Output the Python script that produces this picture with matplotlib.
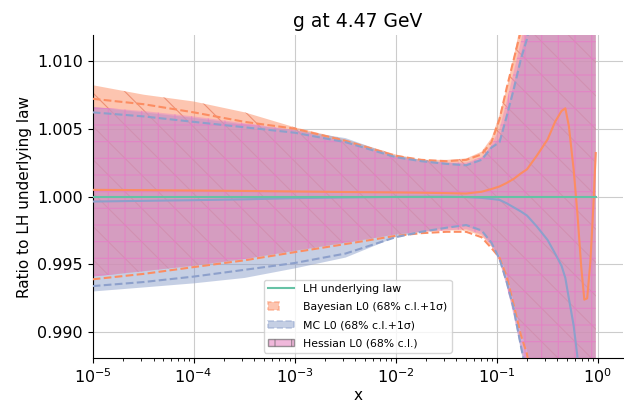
import numpy as np
import matplotlib
matplotlib.use("Agg")
import matplotlib.pyplot as plt
from matplotlib.patches import Patch
from matplotlib.lines import Line2D
from matplotlib.legend_handler import HandlerTuple
from matplotlib.ticker import FormatStrFormatter

plt.rcParams["hatch.linewidth"] = 0.8

#==== data ====
x = [1e-5, 3.2e-5, 1e-4, 3.2e-4, 1e-3, 3.2e-3, 0.01, 0.018, 0.032, 0.05,
     0.071, 0.089, 0.107, 0.126, 0.148, 0.174, 0.2, 0.25, 0.32, 0.38,
     0.44, 0.48, 0.52, 0.58, 0.63, 0.69, 0.74, 0.79, 0.85, 0.91, 0.96]

lh_cv = [1.0] * len(x)

bay_cv = [1.00049, 1.00047, 1.00044, 1.00041, 1.00037, 1.00033, 1.00030, 1.00028, 1.00025, 1.00022,
          1.00035, 1.00055, 1.00074, 1.00100, 1.00130, 1.00170, 1.00200, 1.00300, 1.00420, 1.00550,
          1.00630, 1.00650, 1.00520, 1.00200, 0.99890, 0.99480, 0.99240, 0.99250, 0.99520, 0.99930, 1.00320]
bay_up = [1.0082, 1.0075, 1.0070, 1.0062, 1.0051, 1.0042, 1.0031, 1.0027, 1.0027, 1.0028,
          1.0033, 1.0043, 1.0060, 1.0080, 1.0103, 1.0128, 1.0150, 1.0200, 1.0260, 1.0320,
          1.0370, 1.0410, 1.0450, 1.0500, 1.0550, 1.0600, 1.0660, 1.0720, 1.0800, 1.0900, 1.1000]
bay_lo = [0.9941, 0.9945, 0.9949, 0.9954, 0.9960, 0.9966, 0.9972, 0.9974, 0.9975, 0.9975,
          0.9971, 0.9963, 0.9957, 0.9943, 0.9922, 0.9900, 0.9887, 0.9845, 0.9785, 0.9725,
          0.9675, 0.9635, 0.9595, 0.9545, 0.9495, 0.9445, 0.9385, 0.9325, 0.9245, 0.9145, 0.9045]
bay_sig_up = [1.0072, 1.0068, 1.0062, 1.0055, 1.0050, 1.0041, 1.0030, 1.0027, 1.0026, 1.0027,
              1.0031, 1.0040, 1.0057, 1.0080, 1.0101, 1.0122, 1.0142, 1.0190, 1.0250, 1.0310,
              1.0360, 1.0400, 1.0440, 1.0490, 1.0540, 1.0590, 1.0650, 1.0710, 1.0790, 1.0890, 1.0990]
bay_sig_lo = [0.9939, 0.9943, 0.9948, 0.9953, 0.9959, 0.9965, 0.9971, 0.9973, 0.9974, 0.9974,
              0.9970, 0.9962, 0.9955, 0.9941, 0.9920, 0.9898, 0.9884, 0.9840, 0.9780, 0.9720,
              0.9670, 0.9630, 0.9590, 0.9540, 0.9490, 0.9440, 0.9380, 0.9320, 0.9240, 0.9140, 0.9040]

mc_cv = [0.99963, 0.99968, 0.99973, 0.99979, 0.99988, 0.99993, 0.99997, 0.99998, 0.99998, 0.99996,
         0.99990, 0.99982, 0.99975, 0.99950, 0.99920, 0.99890, 0.99860, 0.99780, 0.99680, 0.99580,
         0.99490, 0.99400, 0.99250, 0.99050, 0.98830, 0.98500, 0.98100, 0.97700, 0.97200, 0.96600, 0.95800]
mc_up = [1.0066, 1.0062, 1.0058, 1.0053, 1.0049, 1.0043, 1.0030, 1.0027, 1.0025, 1.0024,
         1.0028, 1.0037, 1.0043, 1.0062, 1.0083, 1.0105, 1.0122, 1.0160, 1.0210, 1.0260,
         1.0300, 1.0340, 1.0380, 1.0420, 1.0470, 1.0520, 1.0570, 1.0630, 1.0700, 1.0780, 1.0880]
mc_lo = [0.9930, 0.9933, 0.9936, 0.9940, 0.9947, 0.9955, 0.9970, 0.9974, 0.9977, 0.9978,
         0.9974, 0.9965, 0.9953, 0.9935, 0.9914, 0.9887, 0.9865, 0.9815, 0.9755, 0.9695,
         0.9645, 0.9605, 0.9565, 0.9515, 0.9465, 0.9415, 0.9355, 0.9295, 0.9215, 0.9115, 0.9015]
mc_sig_up = [1.0062, 1.0059, 1.0055, 1.0051, 1.0047, 1.0040, 1.0029, 1.0026, 1.0024, 1.0023,
             1.0027, 1.0036, 1.0040, 1.0059, 1.0079, 1.0101, 1.0116, 1.0155, 1.0205, 1.0255,
             1.0295, 1.0335, 1.0375, 1.0415, 1.0465, 1.0515, 1.0565, 1.0625, 1.0695, 1.0775, 1.0875]
mc_sig_lo = [0.9934, 0.9937, 0.9941, 0.9946, 0.9951, 0.9958, 0.9970, 0.9974, 0.9977, 0.9979,
             0.9975, 0.9966, 0.9954, 0.9937, 0.9917, 0.9890, 0.9868, 0.9820, 0.9760, 0.9700,
             0.9650, 0.9610, 0.9570, 0.9520, 0.9470, 0.9420, 0.9360, 0.9300, 0.9220, 0.9120, 0.9020]

hess_up = [1.0066, 1.0063, 1.0059, 1.0054, 1.0049, 1.0040, 1.0029, 1.0026, 1.0025, 1.0025,
           1.0029, 1.0038, 1.0050, 1.0070, 1.0092, 1.0114, 1.0134, 1.0180, 1.0235, 1.0290,
           1.0335, 1.0375, 1.0415, 1.0460, 1.0510, 1.0560, 1.0620, 1.0680, 1.0750, 1.0840, 1.0940]
hess_lo = [0.9941, 0.9945, 0.9949, 0.9954, 0.9960, 0.9966, 0.9972, 0.9974, 0.9975, 0.9976,
           0.9972, 0.9964, 0.9952, 0.9934, 0.9912, 0.9888, 0.9870, 0.9825, 0.9770, 0.9715,
           0.9665, 0.9625, 0.9585, 0.9535, 0.9485, 0.9435, 0.9375, 0.9315, 0.9235, 0.9135, 0.9035]

labels = ["LH underlying law", "Bayesian L0 (68% c.l.+1σ)",
          "MC L0 (68% c.l.+1σ)", "Hessian L0 (68% c.l.)"]
yticks = [0.990, 0.995, 1.000, 1.005, 1.010]

#==== colours (Set2) ====
green, orange, blue, pink = "#66c2a5", "#fc8d62", "#8da0cb", "#e78ac3"

fig = plt.figure(figsize=(6.24, 4.05), dpi=100)
fig.subplots_adjust(left=0.1486, right=0.998, bottom=0.116, top=0.9136)
ax = fig.add_subplot(111)
ax.set_axisbelow(True)

# bands (fill, then hatch drawn on its own so the lines stay visible)
ax.fill_between(x, bay_lo, bay_up, facecolor=orange, alpha=0.5, linewidth=0, zorder=1)
ax.fill_between(x, bay_lo, bay_up, facecolor="none", edgecolor=(0.90, 0.48, 0.36, 0.7),
                hatch="\\", linewidth=0, zorder=1.05)
ax.fill_between(x, mc_lo, mc_up, facecolor=blue, alpha=0.5, linewidth=0, zorder=1.1)
ax.fill_between(x, hess_lo, hess_up, facecolor=pink, alpha=0.5, linewidth=0, zorder=1.2)
ax.fill_between(x, hess_lo, hess_up, facecolor="none", edgecolor=(0.91, 0.48, 0.78, 0.7),
                hatch="+", linewidth=0, zorder=1.25)

# 1 sigma lines
ax.plot(x, bay_sig_up, "--", color=orange, lw=1.5, zorder=3)
ax.plot(x, bay_sig_lo, "--", color=orange, lw=1.5, zorder=3)
ax.plot(x, mc_sig_up, "--", color=blue, lw=1.5, zorder=3)
ax.plot(x, mc_sig_lo, "--", color=blue, lw=1.5, zorder=3)

# central values
ax.plot(x, bay_cv, color=orange, lw=1.5, zorder=4)
ax.plot(x, mc_cv, color=blue, lw=1.5, zorder=4)
ax.plot(x, lh_cv, color=green, lw=1.5, zorder=5)

ax.set_xscale("log")
ax.set_xlim(1e-5, 10 ** 0.25)
ax.set_ylim(0.9881, 1.0119)
ax.set_yticks(yticks)
ax.yaxis.set_major_formatter(FormatStrFormatter("%.3f"))
ax.tick_params(labelsize=11.5)
ax.grid(True, which="major", color="#cccccc", lw=0.8)
ax.spines["top"].set_visible(False)
ax.spines["right"].set_visible(False)

ax.set_title("g at 4.47 GeV", fontsize=13.5)
ax.set_xlabel("x", fontsize=11, labelpad=1)
ax.set_ylabel("Ratio to LH underlying law", fontsize=11)

# legend
h_lh = Line2D([], [], color=green, lw=1.5)
h_bay = (Patch(facecolor=orange, edgecolor=orange, alpha=0.5, linestyle="--", lw=1.2),
         Patch(facecolor="none", edgecolor="0.3", hatch="\\", lw=0))
h_mc = Patch(facecolor=blue, edgecolor=blue, alpha=0.5, linestyle="--", lw=1.2)
h_hess = Patch(facecolor=pink, edgecolor="0.35", alpha=0.6, hatch="|", lw=1.0)
ax.legend([h_lh, h_bay, h_mc, h_hess], labels, loc="lower center",
          fontsize=7.8, handlelength=2.4, labelspacing=0.75,
          handler_map={tuple: HandlerTuple(ndivide=None)})

fig.savefig("out.png", dpi=100)
